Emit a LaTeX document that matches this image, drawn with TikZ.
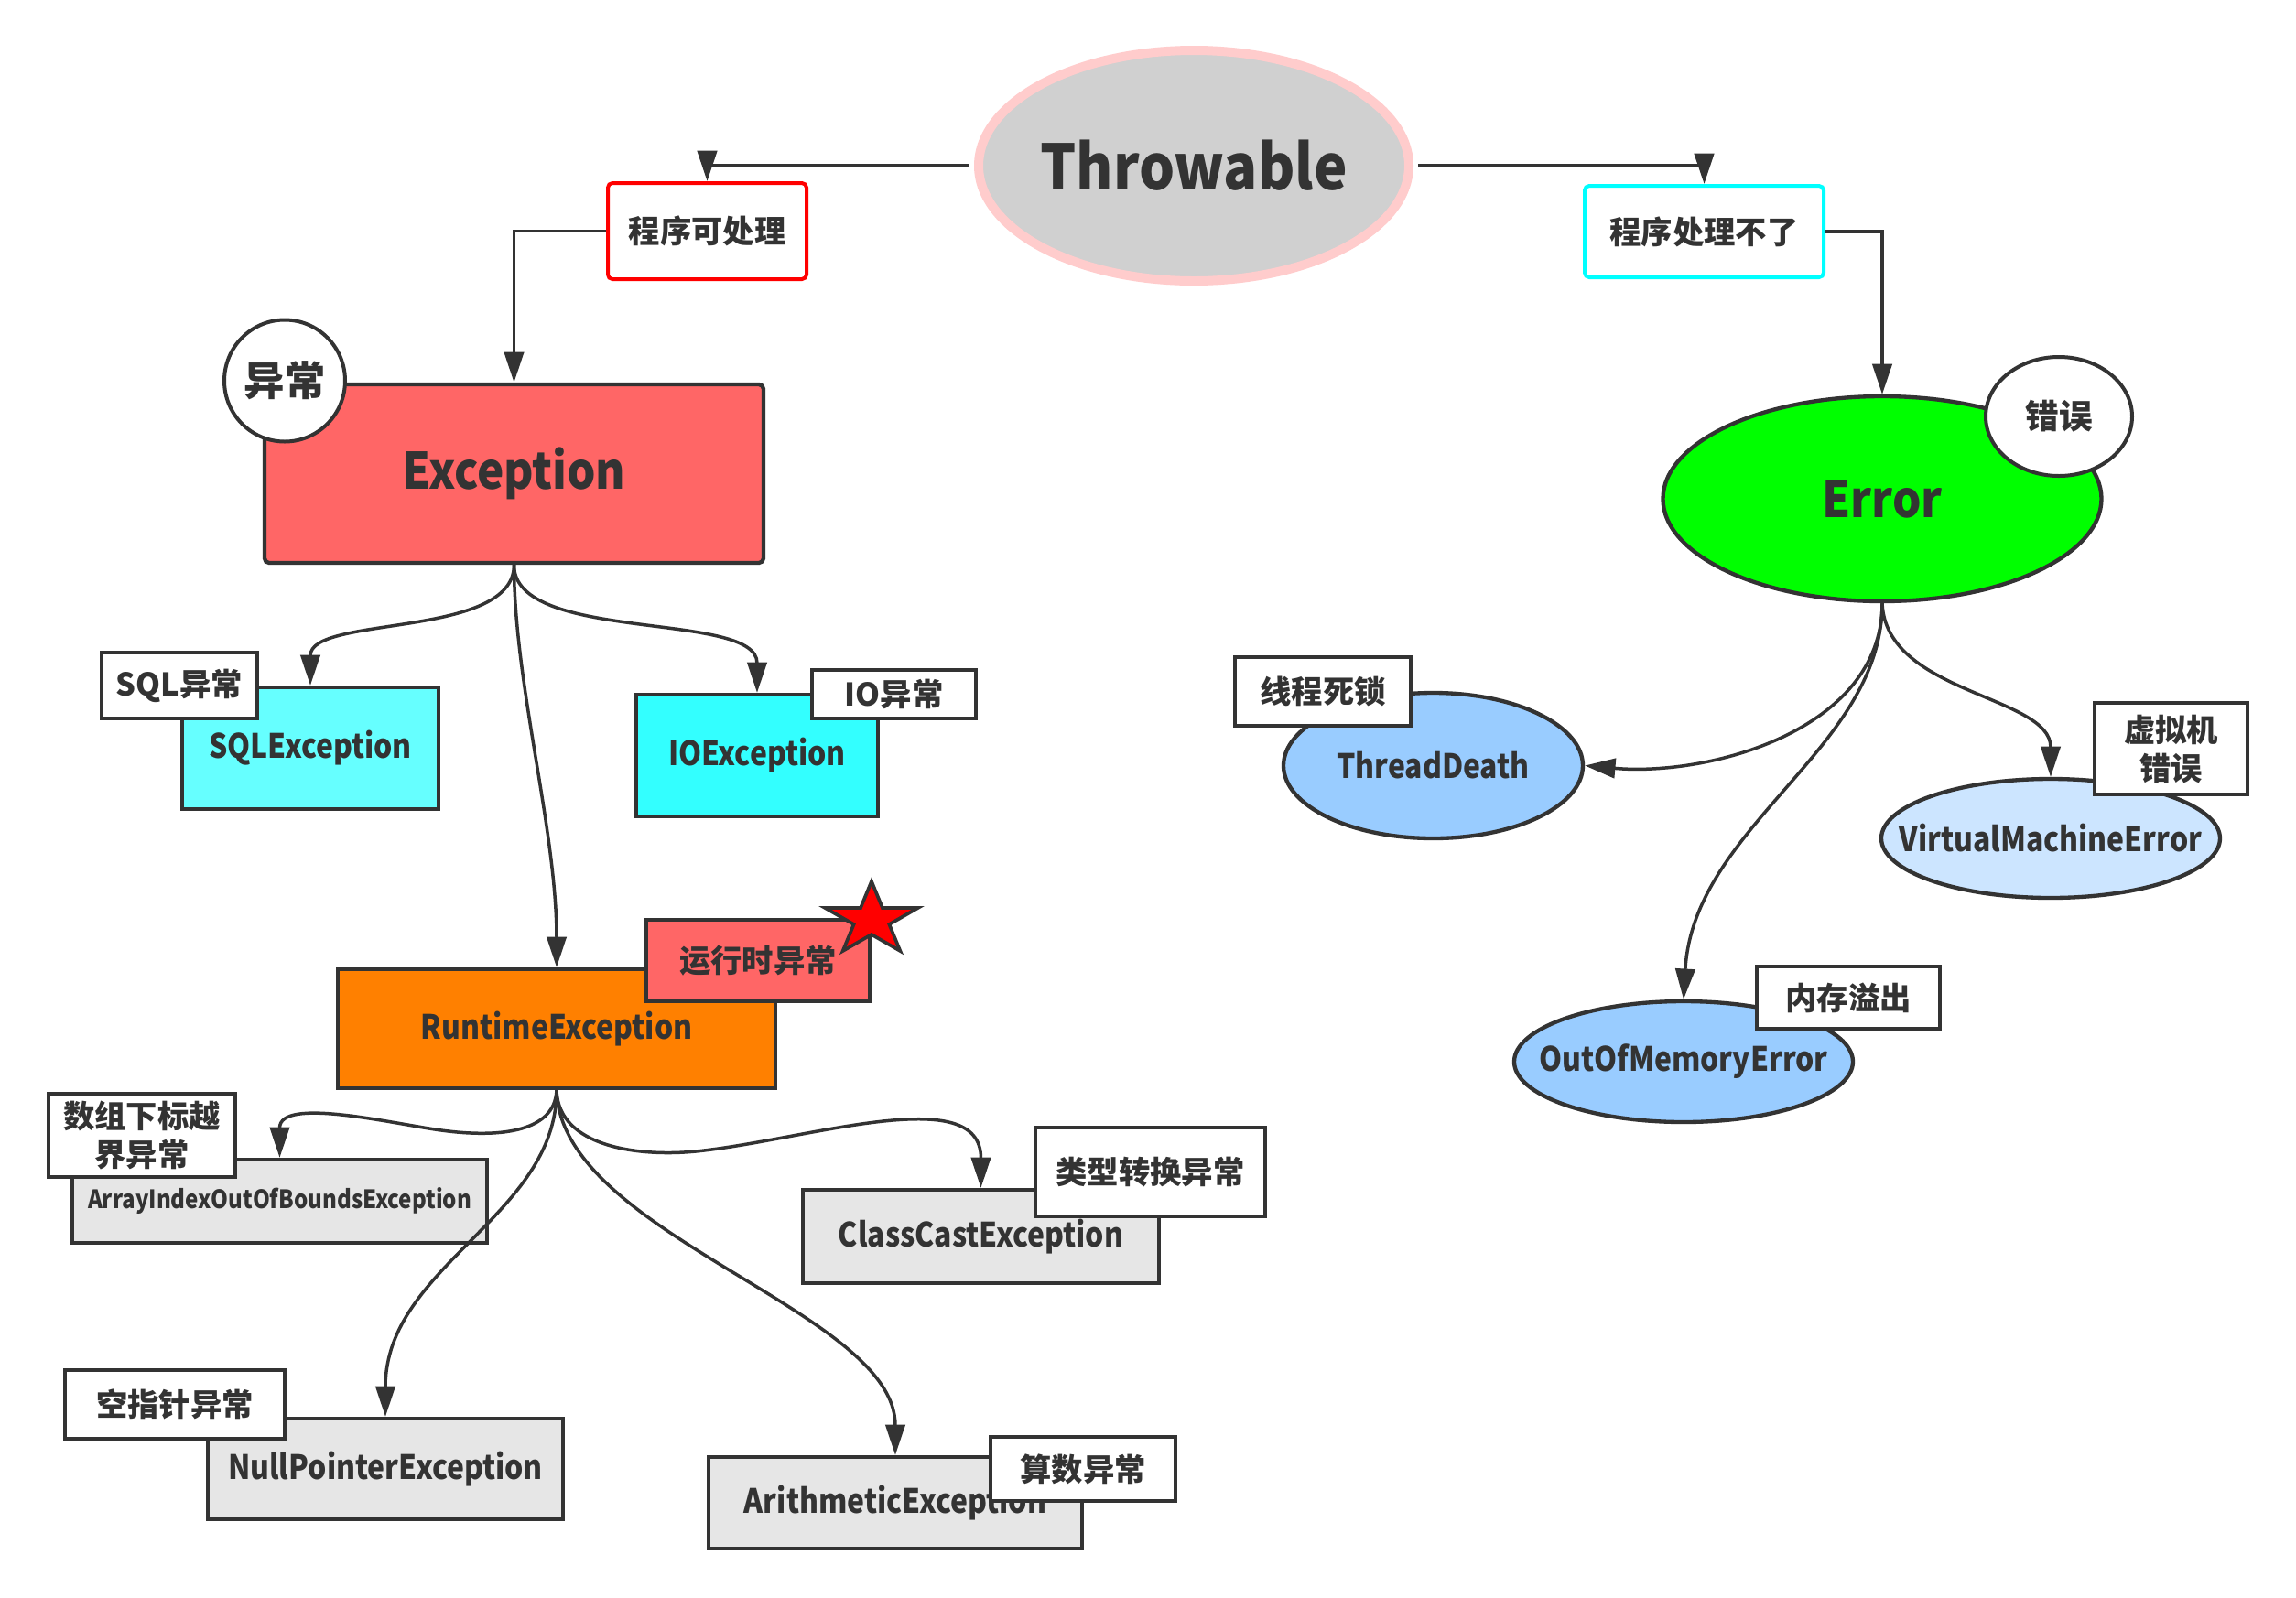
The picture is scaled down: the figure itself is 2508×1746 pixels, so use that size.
\documentclass[tikz,border=0pt]{standalone}
\usepackage{fontspec}
\setmainfont{Noto Sans CJK SC}
\newfontfamily\latA{Noto Sans CJK SC}[FakeStretch=0.87]
\newfontfamily\latB{Noto Sans CJK SC}[FakeStretch=0.9]
\usetikzlibrary{arrows.meta,shapes.geometric}
\definecolor{dk}{HTML}{333333}
\definecolor{throwfill}{HTML}{D0D0D0}
\definecolor{throwline}{HTML}{FFCCCC}
\definecolor{excfill}{HTML}{FF6666}
\definecolor{sqlfill}{HTML}{66FFFF}
\definecolor{iofill}{HTML}{33FFFF}
\definecolor{rtfill}{HTML}{FF8000}
\definecolor{grayfill}{HTML}{E6E6E6}
\definecolor{errfill}{HTML}{00FF00}
\definecolor{bluefill}{HTML}{99CCFF}
\definecolor{lbluefill}{HTML}{CCE5FF}
\definecolor{cyanline}{HTML}{00FFFF}
\definecolor{redline}{HTML}{FF0000}
\begin{document}
\begin{tikzpicture}[x=0.3pt,y=-0.3pt,
  sz/.style 2 args={minimum width=#1*0.3pt, minimum height=#2*0.3pt},
  every node/.style={inner sep=0pt, text=dk, font=\bfseries},
  mainbox/.style={draw=dk, line width=1.3pt, rectangle, font=\latA\bfseries\fontsize{11}{13}\selectfont},
  mainell/.style={draw=dk, line width=1.3pt, ellipse, font=\latA\bfseries\fontsize{11}{13}\selectfont},
  bigtext/.style={font=\latB\bfseries\fontsize{16.5}{19}\selectfont},
  lbl/.style={draw=dk, line width=1.2pt, fill=white, rectangle, align=center, font=\bfseries\fontsize{10.3}{12.6}\selectfont},
  conn/.style={draw=dk, line width=1.05pt, -{Triangle[length=10pt,width=6.4pt]}},
]
\useasboundingbox[fill=white] (0,0) rectangle (2508,1746);

% top
\node[ellipse, sz={470}{252}, fill=throwfill, draw=throwline, line width=3pt,
      font=\latB\bfseries\fontsize{20.5}{24}\selectfont] (throw) at (1304,181) {\makebox[0pt]{Throwable}};
\node[lbl, sz={217}{105}, draw=redline, rounded corners=1.5pt] (p1) at (772.5,252.5) {程序可处理};
\node[lbl, sz={261}{100}, draw=cyanline, rounded corners=1.5pt] (p2) at (1861.5,253) {程序处理不了};

% Exception branch
\node[mainbox, sz={545}{195}, fill=excfill, rounded corners=1.5pt, bigtext] (exc) at (561.5,517.5) {Exception};
\node[mainbox, sz={280}{133}, fill=sqlfill] (sql) at (339,817.5) {SQLException};
\node[mainbox, sz={264}{133}, fill=iofill] (io) at (827,825.5) {IOException};
\node[mainbox, sz={478}{130}, fill=rtfill] (rt) at (608,1124) {RuntimeException};
\node[mainbox, sz={453}{91}, fill=grayfill, font=\latA\bfseries\fontsize{8.3}{10}\selectfont] (aio) at (305.5,1312.5) {ArrayIndexOutOfBoundsException};
\node[mainbox, sz={389}{102}, fill=grayfill] (cce) at (1071.5,1351) {ClassCastException};
\node[mainbox, sz={388}{110}, fill=grayfill] (npe) at (421,1605) {NullPointerException};
\node[mainbox, sz={408}{100}, fill=grayfill] (ae) at (978,1642) {ArithmeticException};

% Error branch
\node[mainell, sz={479}{224}, fill=errfill, bigtext] (err) at (2056,545) {\makebox[0pt]{Error}};
\node[mainell, sz={327}{159}, fill=bluefill] (td) at (1565.5,836.5) {\makebox[0pt]{ThreadDeath}};
\node[mainell, sz={370}{130}, fill=lbluefill] (vme) at (2240,916) {\makebox[0pt]{VirtualMachineError}};
\node[mainell, sz={370}{132}, fill=bluefill] (oom) at (1839,1160) {\makebox[0pt]{OutOfMemoryError}};

% labels
\node[lbl, ellipse, sz={132}{133}, font=\bfseries\fontsize{13.3}{16}\selectfont] (exclbl) at (311,416) {\makebox[0pt]{异常}};
\node[lbl, sz={170}{72}] (sqllbl) at (196,749) {SQL异常};
\node[lbl, sz={179}{53}] (iolbl) at (976.5,758.5) {IO异常};
\node[lbl, sz={244}{89}, fill=excfill] (rtlbl) at (828,1049.5) {运行时异常};
\begin{scope}[shift={(952,1005)}, xscale=1.27]
  \node[star, star points=5, star point ratio=2.62, minimum size=84*0.3pt,
        fill=red, draw=dk, line width=1.1pt, transform shape] (star) at (0,0) {};
\end{scope}
\node[lbl, sz={204}{91}] (aiolbl) at (155,1240.5) {数组下标越\\界异常};
\node[lbl, sz={251}{97}] (ccelbl) at (1256.5,1280.5) {类型转换异常};
\node[lbl, sz={240}{75}] (npelbl) at (191,1534.5) {空指针异常};
\node[lbl, sz={202}{70}] (aelbl) at (1183,1605) {算数异常};
\node[lbl, ellipse, sz={160}{130}, font=\bfseries\fontsize{11}{13}\selectfont] (errlbl) at (2249,455) {\makebox[0pt]{错误}};
\node[lbl, sz={192}{75}] (tdlbl) at (1445,755.5) {线程死锁};
\node[lbl, sz={167}{100}] (vmelbl) at (2371.5,818) {虚拟机\\错误};
\node[lbl, sz={200}{68}] (oomlbl) at (2019,1090) {内存溢出};

% waypoints
\coordinate (w1) at (482,1235);
\coordinate (w2) at (760,1258);

% connectors
\draw[conn, shorten <=1.5pt] (throw.west) -| (p1.north);
\draw[conn, shorten <=1.5pt] (throw.east) -| (p2.north);
\draw[conn] (p1.west) -| (exc.north);
\draw[conn] (p2.east) -| (err.north);

\draw[conn] (exc.south) .. controls +(0,81) and +(0,-77) .. (sql.north);
\draw[conn] (exc.south) .. controls +(0,86) and +(0,-90) .. (io.north);
\draw[conn] (exc.south) .. controls +(0,130) and +(0,-150) .. (rt.north);

\draw[conn] (rt.south) .. controls +(-2,48) and +(58,8) .. (w1)
                       .. controls +(-52,-7) and +(0,-67) .. (aio.north);
\draw[conn] (rt.south) .. controls +(2,63) and +(-60,6) .. (w2)
                       .. controls +(120,-12) and +(0,-117) .. (cce.north);
\draw[conn] (rt.south) .. controls +(0,138) and +(0,-165) .. (npe.north);
\draw[conn] (rt.south) .. controls +(4,158) and +(0,-158) .. (ae.north);

\draw[conn] (err.south) .. controls +(0,139) and +(135,12) .. (td.east);
\draw[conn] (err.south) .. controls +(0,159) and +(11,-190) .. (oom.north);
\draw[conn] (err.south) .. controls +(4,99) and +(0,-89) .. (vme.north);
\end{tikzpicture}
\end{document}
